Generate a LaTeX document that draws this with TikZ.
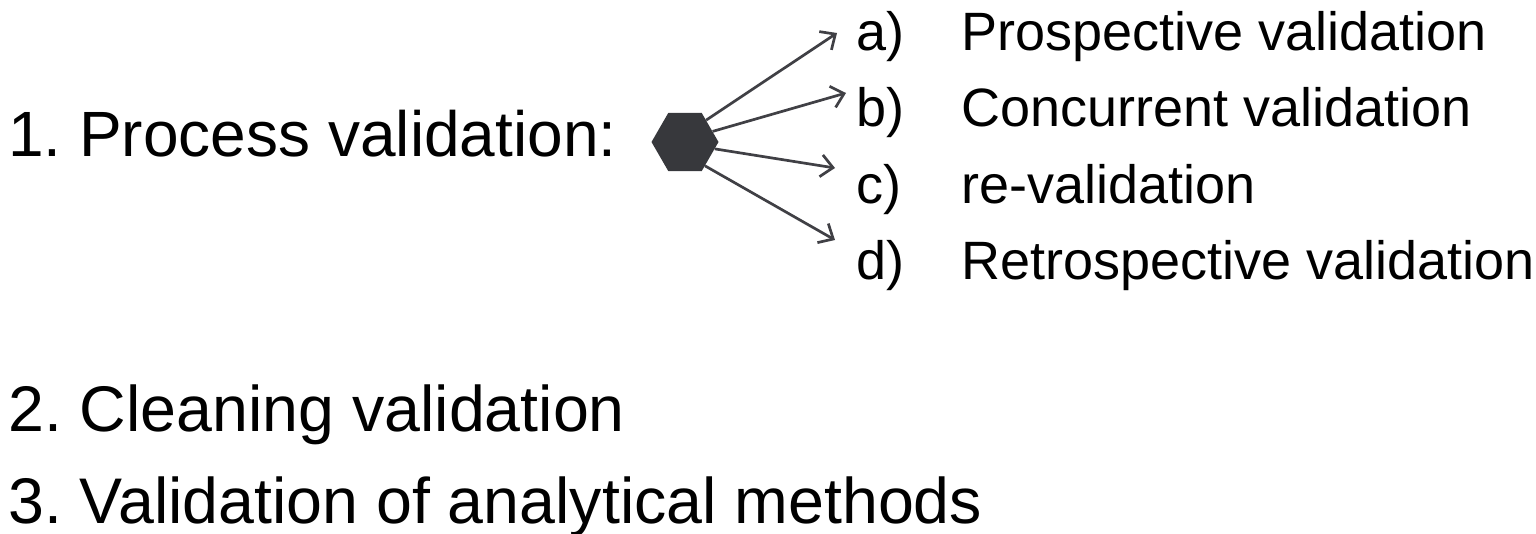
\documentclass[tikz,border=0pt]{standalone}
\usepackage{fontspec}
\setmainfont{Liberation Sans}
\frenchspacing
\usetikzlibrary{shapes.geometric,arrows.meta}
\definecolor{hexgray}{HTML}{37383C}
\definecolor{arrgray}{HTML}{404045}
\tikzset{
  bigtxt/.style={anchor=base west,inner sep=0pt,font=\fontsize{64}{77}\selectfont},
  bigtxtb/.style={anchor=base west,inner sep=0pt,font=\fontsize{64.5}{77}\selectfont},
  listtxt/.style={anchor=base west,inner sep=0pt,font=\fontsize{54}{65}\selectfont},
  hexnode/.style={regular polygon,regular polygon sides=6,minimum size=67pt,inner sep=0pt,fill=hexgray,draw=none},
  arr/.style={draw=arrgray,line width=2.7pt,-{Straight Barb[length=12pt,width=22pt,line width=2.7pt]}}
}
\begin{document}
\begin{tikzpicture}[x=1pt,y=-1pt]
\useasboundingbox (0,0) rectangle (1536,533);
\node[bigtxt] (p1) at (8,156) {1. Process validation:};
\node[bigtxtb] (p2) at (8,431) {2. Cleaning validation};
\node[bigtxtb] (p3) at (8,523) {3. Validation of analytical methods};
\node[hexnode] (hex) at (685,142) {};
\node[listtxt] (la) at (856,50) {a)};
\node[listtxt] (lb) at (856,126) {b)};
\node[listtxt] (lc) at (856,203) {c)};
\node[listtxt] (ld) at (856,279) {d)};
\node[listtxt] (ta) at (961,50) {Prospective validation};
\node[listtxt] (tb) at (961,126) {Concurrent validation};
\node[listtxt] (tc) at (961,203) {re-validation};
\node[listtxt] (td) at (961,279) {Retrospective validation};
\coordinate (ea) at (837,33);
\coordinate (eb) at (846,93);
\coordinate (ec) at (835,168);
\coordinate (ed) at (835,240);
\draw[arr] (hex.46) -- (ea);
\draw[arr] (hex.21) -- (eb);
\draw[arr] (hex.-13) -- (ec);
\draw[arr] (hex.-50) -- (ed);
\end{tikzpicture}
\end{document}
